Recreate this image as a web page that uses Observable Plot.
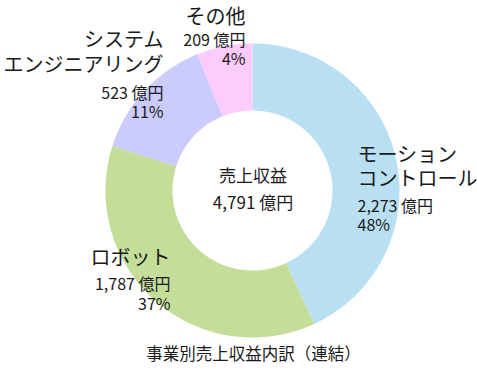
<!DOCTYPE html>
<html><head><meta charset="utf-8">
<script src="https://cdn.jsdelivr.net/npm/d3@7"></script>
<script src="https://cdn.jsdelivr.net/npm/@observablehq/plot@0.6"></script>
<style>
body{margin:0;background:#fff;}
#chart svg{display:block;}
</style>
</head><body><div id="chart"></div>
<script>
// ---- data ----
const segments = ["モーションコントロール", "ロボット", "システムエンジニアリング", "その他"];
const revenue = [2273, 1787, 523, 209];           // 億円
const percents = [48, 37, 11, 4];                 // %
const sliceShare = [43.1, 36.8, 14.0, 6.1];       // angular share of each slice as drawn in the picture
const totalRevenue = 4791;                        // 億円
const centerTitle = "売上収益";
const caption = "事業別売上収益内訳（連結）";

// ---- layout / style ----
const W = 477, H = 372;
const CX = 252, CY = 190;          // donut centre in the frame
const R_OUT = 147, R_IN = 80;
const colors = ["#b9dff2", "#c4de9a", "#cbcbfd", "#fdccfc"];
const nameLines = ["モーション\nコントロール", "ロボット", "システム\nエンジニアリング", "その他"];
// label block placement (pixels relative to frame), per segment
const nameLayout = [
  {x: 357, y: 165.5, anchor: "start"},
  {x: 170, y: 256.5, anchor: "end"},
  {x: 163, y: 51, anchor: "end"},
  {x: 245, y: 16, anchor: "end"}
];
const valueLayout = [
  {x: 357, y: 214.5, anchor: "start"},
  {x: 170, y: 293, anchor: "end"},
  {x: 163, y: 101.5, anchor: "end"},
  {x: 245, y: 48.5, anchor: "end"}
];
const font = "'Noto Sans CJK JP', 'Noto Sans', sans-serif";
const textColor = "#1a1a1a";

// ---- slice geometry from the data through d3.pie ----
const arcs = d3.pie().sort(null).value(d => d)(sliceShare);
function ring(a0, a1) {
  const n = Math.max(8, Math.ceil((a1 - a0) / 0.01));
  const pts = [];
  for (let i = 0; i <= n; i++) { const a = a0 + (a1 - a0) * i / n; pts.push([R_OUT * Math.sin(a), -R_OUT * Math.cos(a)]); }
  for (let i = n; i >= 0; i--) { const a = a0 + (a1 - a0) * i / n; pts.push([R_IN * Math.sin(a), -R_IN * Math.cos(a)]); }
  pts.push(pts[0]);
  return pts;
}
const slices = arcs.map((a, i) => ({
  type: "Feature",
  properties: {segment: segments[i]},
  geometry: {type: "Polygon", coordinates: [ring(a.startAngle, a.endAngle)]}
}));

const fmt = d3.format(",");
const nameLabels = segments.map((s, i) => ({text: nameLines[i], x: nameLayout[i].x - CX, y: nameLayout[i].y - CY, anchor: nameLayout[i].anchor}));
const valueLabels = segments.map((s, i) => ({text: `${fmt(revenue[i])} 億円\n${percents[i]}%`, x: valueLayout[i].x - CX, y: valueLayout[i].y - CY, anchor: valueLayout[i].anchor}));
const centerLabels = [
  {text: centerTitle, x: 252.5 - CX, y: 176 - CY},
  {text: `${fmt(totalRevenue)} 億円`, x: 252.5 - CX, y: 203 - CY}
];
const captionLabel = [{text: caption, x: 253 - CX, y: 354 - CY}];

const chart = Plot.plot({
  width: W, height: H,
  margin: 0,
  style: {fontFamily: font, background: "#fff"},
  projection: {
    type: "identity",
    domain: {type: "MultiPoint", coordinates: [[-CX, -CY], [W - CX, H - CY]]}
  },
  color: {domain: segments, range: colors},
  marks: [
    Plot.geo(slices, {fill: d => d.properties.segment}),
    Plot.text(nameLabels.filter(d => d.anchor === "start"), {x: "x", y: "y", text: "text", textAnchor: "start", fontSize: 20, lineHeight: 1.22, fill: textColor}),
    Plot.text(nameLabels.filter(d => d.anchor === "end"), {x: "x", y: "y", text: "text", textAnchor: "end", fontSize: 20, lineHeight: 1.22, fill: textColor}),
    Plot.text(valueLabels.filter(d => d.anchor === "start"), {x: "x", y: "y", text: "text", textAnchor: "start", fontSize: 16, lineHeight: 1.22, fill: textColor}),
    Plot.text(valueLabels.filter(d => d.anchor === "end"), {x: "x", y: "y", text: "text", textAnchor: "end", fontSize: 16, lineHeight: 1.22, fill: textColor}),
    Plot.text(centerLabels, {x: "x", y: "y", text: "text", fontSize: 17, fill: textColor}),
    Plot.text(captionLabel, {x: "x", y: "y", text: "text", fontSize: 16.5, fill: textColor})
  ]
});
document.getElementById("chart").appendChild(chart);
</script>
</body></html>
